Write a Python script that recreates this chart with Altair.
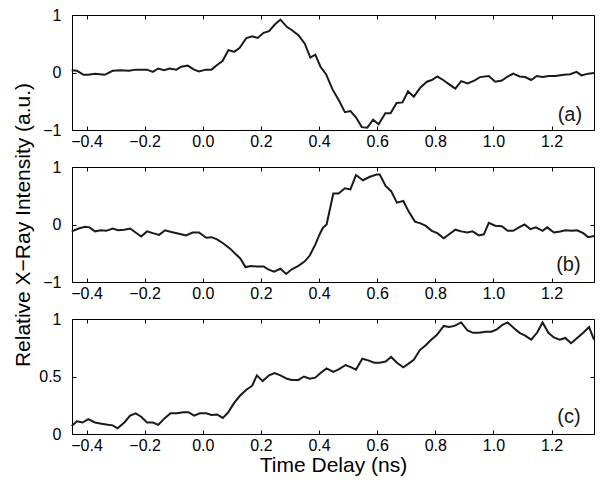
import altair as alt
import pandas as pd

# ---------------- data ----------------
X_DOMAIN = [-0.45, 1.346]
X_TICKS = [-0.4, -0.2, 0.0, 0.2, 0.4, 0.6, 0.8, 1.0, 1.2]

a_t = [-0.451, -0.433, -0.410, -0.394, -0.371, -0.338, -0.310, -0.282, -0.254, -0.231,
       -0.192, -0.172, -0.153, -0.133, -0.114, -0.091, -0.074, -0.052, -0.030, -0.013,
       0.010, 0.030, 0.049, 0.068, 0.088, 0.108, 0.127, 0.150, 0.170, 0.189,
       0.209, 0.228, 0.247, 0.267, 0.290, 0.306, 0.329, 0.351, 0.370, 0.387,
       0.405, 0.424, 0.446, 0.469, 0.489, 0.508, 0.527, 0.547, 0.566, 0.586,
       0.605, 0.628, 0.646, 0.667, 0.687, 0.706, 0.726, 0.749, 0.771, 0.788,
       0.807, 0.827, 0.849, 0.869, 0.889, 0.911, 0.934, 0.954, 0.984, 1.006,
       1.029, 1.049, 1.068, 1.090, 1.109, 1.130, 1.149, 1.169, 1.191, 1.213,
       1.242, 1.264, 1.286, 1.303, 1.326, 1.346]
a_v = [0.04, 0.03, -0.04, -0.04, -0.02, -0.04, 0.03, 0.04, 0.03, 0.05,
       0.05, 0.01, 0.07, 0.04, 0.07, 0.05, 0.10, 0.12, 0.05, 0.02,
       0.05, 0.05, 0.13, 0.20, 0.39, 0.36, 0.43, 0.60, 0.63, 0.60,
       0.69, 0.72, 0.83, 0.92, 0.79, 0.74, 0.65, 0.50, 0.26, 0.31,
       0.10, -0.03, -0.29, -0.49, -0.69, -0.67, -0.78, -0.95, -0.96, -0.82,
       -0.90, -0.71, -0.71, -0.53, -0.52, -0.33, -0.42, -0.26, -0.16, -0.13,
       -0.07, -0.13, -0.21, -0.28, -0.15, -0.19, -0.14, -0.08, -0.06, -0.16,
       -0.14, -0.07, -0.02, -0.07, -0.08, -0.13, -0.06, -0.08, -0.06, -0.06,
       -0.04, -0.03, 0.01, -0.05, -0.02, -0.01]

b_t = [-0.451, -0.427, -0.405, -0.390, -0.371, -0.351, -0.332, -0.310, -0.291, -0.270,
       -0.250, -0.231, -0.212, -0.192, -0.172, -0.150, -0.130, -0.108, -0.082, -0.058,
       -0.035, -0.013, 0.012, 0.030, 0.049, 0.071, 0.094, 0.110, 0.129, 0.147,
       0.166, 0.186, 0.209, 0.225, 0.245, 0.267, 0.287, 0.306, 0.329, 0.351,
       0.368, 0.387, 0.403, 0.413, 0.426, 0.449, 0.467, 0.489, 0.508, 0.527,
       0.551, 0.575, 0.598, 0.609, 0.629, 0.648, 0.668, 0.690, 0.709, 0.730,
       0.749, 0.766, 0.788, 0.807, 0.829, 0.850, 0.869, 0.889, 0.911, 0.928,
       0.950, 0.967, 0.984, 1.006, 1.029, 1.049, 1.068, 1.088, 1.107, 1.127,
       1.146, 1.169, 1.185, 1.208, 1.230, 1.247, 1.270, 1.288, 1.309, 1.326,
       1.346]
b_v = [-0.12, -0.07, -0.04, -0.05, -0.12, -0.10, -0.11, -0.07, -0.10, -0.09,
       -0.07, -0.14, -0.21, -0.12, -0.15, -0.18, -0.10, -0.13, -0.16, -0.19,
       -0.14, -0.14, -0.23, -0.22, -0.26, -0.33, -0.42, -0.50, -0.59, -0.74,
       -0.72, -0.73, -0.73, -0.78, -0.82, -0.77, -0.86, -0.78, -0.72, -0.64,
       -0.54, -0.35, -0.16, -0.06, 0.00, 0.54, 0.54, 0.63, 0.61, 0.86,
       0.77, 0.83, 0.87, 0.87, 0.67, 0.58, 0.38, 0.41, 0.22, 0.05,
       0.02, -0.02, -0.11, -0.15, -0.24, -0.16, -0.09, -0.12, -0.14, -0.12,
       -0.19, -0.17, 0.03, -0.02, -0.03, -0.11, -0.11, -0.05, 0.00, -0.08,
       -0.05, -0.11, -0.05, -0.14, -0.12, -0.10, -0.11, -0.10, -0.15, -0.22,
       -0.20]

c_t = [-0.451, -0.433, -0.414, -0.394, -0.371, -0.349, -0.326, -0.310, -0.293, -0.270,
       -0.250, -0.231, -0.212, -0.192, -0.172, -0.153, -0.130, -0.111, -0.089, -0.067,
       -0.049, -0.030, -0.010, 0.012, 0.030, 0.049, 0.069, 0.088, 0.108, 0.127,
       0.150, 0.170, 0.186, 0.206, 0.228, 0.247, 0.267, 0.290, 0.306, 0.329,
       0.348, 0.368, 0.387, 0.405, 0.426, 0.449, 0.469, 0.491, 0.511, 0.527,
       0.549, 0.569, 0.590, 0.609, 0.629, 0.648, 0.668, 0.690, 0.707, 0.726,
       0.747, 0.766, 0.786, 0.805, 0.829, 0.847, 0.866, 0.889, 0.911, 0.930,
       0.950, 0.973, 0.993, 1.012, 1.031, 1.049, 1.071, 1.090, 1.109, 1.130,
       1.150, 1.169, 1.189, 1.208, 1.228, 1.247, 1.267, 1.288, 1.309, 1.329,
       1.346]
c_v = [0.07, 0.11, 0.10, 0.13, 0.10, 0.09, 0.08, 0.075, 0.05, 0.10,
       0.16, 0.18, 0.15, 0.10, 0.10, 0.08, 0.14, 0.18, 0.18, 0.19,
       0.19, 0.16, 0.18, 0.18, 0.165, 0.17, 0.14, 0.19, 0.27, 0.33,
       0.385, 0.42, 0.51, 0.46, 0.51, 0.53, 0.51, 0.48, 0.47, 0.47,
       0.50, 0.48, 0.49, 0.53, 0.57, 0.54, 0.565, 0.60, 0.58, 0.56,
       0.655, 0.64, 0.62, 0.62, 0.63, 0.67, 0.62, 0.58, 0.61, 0.645,
       0.73, 0.77, 0.82, 0.86, 0.94, 0.93, 0.94, 0.97, 0.90, 0.88,
       0.88, 0.89, 0.89, 0.91, 0.95, 0.97, 0.92, 0.88, 0.855, 0.82,
       0.88, 0.97, 0.88, 0.84, 0.82, 0.835, 0.79, 0.835, 0.88, 0.93,
       0.82]

tags = ["(a)", "(b)", "(c)"]
tag_x = [1.305, 1.30, 1.30]
tag_y = [-0.74, -0.70, 0.145]

FONT = "Liberation Sans"
INK = "#1a1a1a"
W, H = 522, 115


def panel(t, v, ydom, yticks, tag, tx, ty, xtitle=None, ytitle=None):
    df = pd.DataFrame({"t": t, "v": v})
    xs = alt.Scale(domain=X_DOMAIN, nice=False, zero=False)
    ys = alt.Scale(domain=ydom, nice=False, zero=False)

    line = alt.Chart(df).mark_line(color=INK, strokeWidth=2).encode(
        x=alt.X("t:Q", scale=xs, title=xtitle,
                axis=alt.Axis(orient="bottom", values=X_TICKS, format=".1f",
                              offset=-4, tickSize=4, domain=False, grid=False,
                              labelPadding=3, titlePadding=1, minExtent=0)),
        y=alt.Y("v:Q", scale=ys, title=ytitle,
                axis=alt.Axis(orient="left", values=yticks, format="~g",
                              offset=-4, tickSize=4, domain=False, grid=False,
                              labelPadding=11, titlePadding=9, minExtent=0)),
    )
    mirror = alt.Chart(df).mark_line(opacity=0).encode(
        x=alt.X("t:Q", scale=xs, title=None,
                axis=alt.Axis(orient="top", values=X_TICKS, offset=-4, tickSize=4,
                              labels=False, domain=False, grid=False, minExtent=0)),
        y=alt.Y("v:Q", scale=ys, title=None,
                axis=alt.Axis(orient="right", values=yticks, offset=-4, tickSize=4,
                              labels=False, domain=False, grid=False, minExtent=0)),
    )
    lab = alt.Chart(pd.DataFrame({"t": [tx], "v": [ty], "s": [tag]})).mark_text(
        align="right", baseline="middle", fontSize=20, font=FONT, color=INK
    ).encode(
        x=alt.X("t:Q", scale=xs, axis=None),
        y=alt.Y("v:Q", scale=ys, axis=None),
        text="s:N",
    )
    return alt.layer(line, lab, mirror).resolve_axis(
        x="independent", y="independent"
    ).properties(width=W, height=H)


pa = panel(a_t, a_v, [-1, 1], [-1, 0, 1], tags[0], tag_x[0], tag_y[0])
pb = panel(b_t, b_v, [-1, 1], [-1, 0, 1], tags[1], tag_x[1], tag_y[1],
           ytitle="Relative X\u2212Ray Intensity (a.u.)")
pc = panel(c_t, c_v, [0, 1], [0, 0.5, 1], tags[2], tag_x[2], tag_y[2],
           xtitle="Time Delay (ns)")

chart = alt.vconcat(pa, pb, pc, spacing=37, bounds="flush").properties(
    padding={"left": 4, "top": -2, "right": 0, "bottom": 0}
).configure_view(
    stroke="black", strokeWidth=1
).configure_axis(
    labelFont=FONT, titleFont=FONT, labelFontSize=16, titleFontSize=21,
    labelColor="black", titleColor="black", tickColor="black",
    titleFontWeight="normal"
)

chart.save("out.html", embed_options={"renderer": "svg", "actions": False})
